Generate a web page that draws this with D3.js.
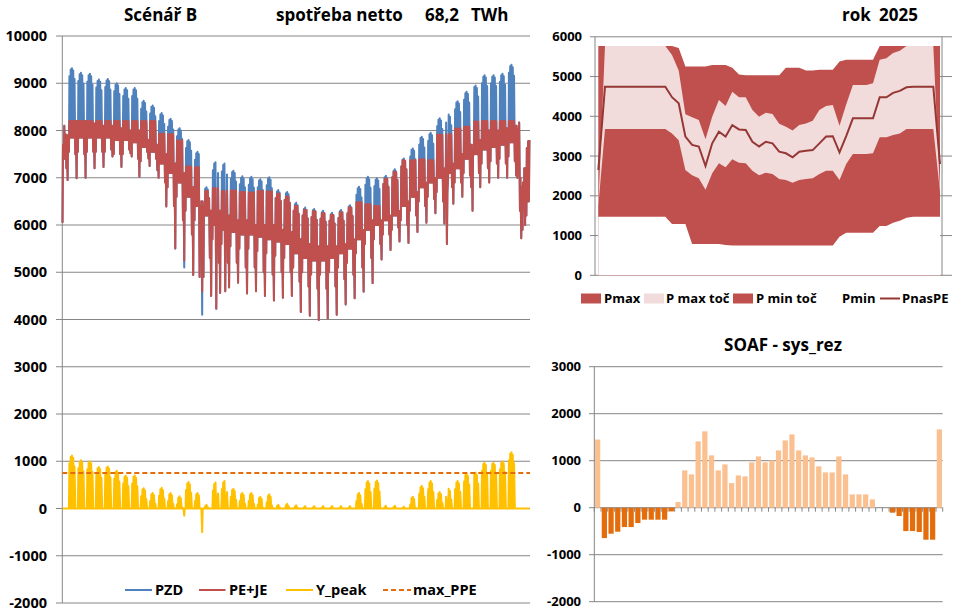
<!DOCTYPE html>
<html><head><meta charset="utf-8">
<script src="https://cdn.jsdelivr.net/npm/d3@7/dist/d3.min.js"></script>
<style>
body{margin:0;background:#fff;}
svg text{font-family:"Open Sans",sans-serif;font-weight:bold;fill:#000;}
</style></head><body>
<svg id="c" width="955" height="611"></svg>
<script>
// ===== Main chart data (weekly values, weeks start on Monday; week 0 = Wed 1 Jan .. Sun 5 Jan 2025) =====
const wdPeak = [8150,9320,9220,9200,9080,9090,9000,8900,8900,8630,8530,8370,8250,8050,7800,7550,6800,7330,7300,7150,7030,7020,6970,7010,6740,6700,6470,6370,6340,6300,6260,6320,6420,6810,7020,6990,7040,7180,7410,7620,7870,7950,8260,8340,8620,8820,8950,9170,9170,9200,9390,8200,7800];
const wdLow  = [7400,7850,7850,7850,7850,7850,7800,7800,7750,7650,7550,7300,7100,6900,6600,6400,6200,6000,5900,5850,5800,5800,5750,5700,5650,5600,5400,5300,5250,5250,5300,5400,5500,5700,5900,6000,6100,6200,6400,6600,6800,6900,7000,7100,7200,7400,7500,7600,7650,7700,7750,7300,6500];
const wePeak = [7900,8200,8200,8150,8100,8100,8050,8000,8000,7800,7700,7500,7300,7100,6800,6500,6300,6300,6200,6100,6100,6000,6000,6000,5900,5850,5700,5600,5550,5550,5550,5600,5700,5900,6100,6100,6200,6300,6500,6700,6900,7000,7200,7300,7500,7700,7800,8000,8000,8050,8100,7200,7500];
const satLow = [7200,7500,7500,7550,7550,7600,7500,7600,7400,7550,7400,6900,6400,6100,5800,5300,5300,5200,5200,5200,5100,5100,5000,4950,5000,5000,4800,4700,4650,4650,4700,4850,4950,5100,5300,5600,5800,5950,6000,6200,6400,6550,6500,6800,6900,7050,7100,7200,7300,7300,7350,6500,6800];
const sunLow = [6950,6990,7000,7200,7230,7450,7230,7520,7020,7410,7160,6390,5505,5100,4940,4100,4500,4560,4680,4780,4550,4600,4500,4400,4460,4500,4160,4080,3990,4020,4100,4320,4450,4590,4770,5270,5470,5650,5620,5850,6050,6250,6030,6450,6600,6800,6800,6900,7000,7000,7050,6000,6100];
const peCap  = [8200,8200,8200,8200,8200,8200,8200,8200,8200,8200,8200,7930,7920,7790,7240,7220,6720,6780,6720,6730,6700,6690,6720,6710,6660,6600,6400,6320,6290,6250,6210,6270,6370,6480,6440,6400,6980,7120,7370,7370,7390,7370,7910,7920,8040,8080,8190,8200,8200,8200,8200,8200,8200];
// weekday profile (Mon..Fri) relative to the weekly weekday values
const dowPeakOffset = [-170, -30, 0, -50, -230];
const dowLowOffset  = [-300, 0, 0, 0, 0];
// Sundays where PE+JE stays above PZD: [week, PE+JE low]
const peLowOverride = [[13,5250],[15,4600]];
// holidays: [day of year (0 = 1 Jan), night low, day peak]
const holidays = [[0,6050,7700],[107,4900,6400],[110,4900,6400],[120,4230,6100],[127,4600,6100],[300,5600,6700],[320,6300,7500],[357,6300,7000],[358,5720,6800],[359,5900,6900]];
const maxPPE = 750;
const mainTicks = [-2000,-1000,0,1000,2000,3000,4000,5000,6000,7000,8000,9000,10000];

// ===== Top-right chart data (weekly) =====
const pMax    = [5770,5770,5770,5770,5770,5770,5770,5770,5770,5770,5770,5770,5720,5250,5250,5250,5250,5290,5290,5290,5220,5050,5030,5030,5030,5030,5030,5030,5220,5220,5220,5150,5150,5170,5170,5170,5380,5420,5420,5420,5420,5420,5770,5770,5770,5770,5770,5770,5770,5770,5770,5770];
const pMaxToc = [1750,5770,5770,5770,5770,5770,5770,5770,5770,5770,5770,5540,5150,4050,3975,3910,3420,3990,4410,4260,4620,4480,4480,4160,3990,4090,4060,3810,3740,3640,3780,3820,3890,4160,4260,4285,3760,4300,4790,4790,4790,4830,5420,5460,5590,5650,5770,5770,5770,5770,5770,2100];
const pMinToc = [1750,3680,3680,3680,3680,3680,3680,3680,3680,3680,3680,3570,3400,2650,2520,2440,2150,2570,2820,2720,2920,2830,2820,2630,2520,2580,2550,2420,2400,2330,2400,2420,2440,2550,2630,2630,2400,2800,3050,3050,3050,3070,3470,3470,3530,3570,3680,3680,3680,3680,3680,2100];
const pMin    = [1475,1475,1475,1475,1475,1475,1475,1475,1475,1475,1475,1290,1290,1290,790,790,790,790,790,760,750,750,750,750,750,750,750,750,750,750,750,750,750,750,750,750,970,1070,1070,1070,1070,1070,1240,1240,1320,1370,1450,1475,1475,1475,1475,1475];
const pnasPE  = [2650,4745,4745,4745,4745,4745,4745,4745,4745,4745,4745,4480,4330,3490,3280,3240,2750,3320,3610,3490,3780,3670,3655,3360,3240,3360,3320,3110,3070,2970,3110,3135,3150,3320,3490,3500,3090,3500,3950,3950,3950,3950,4480,4480,4590,4640,4730,4745,4745,4745,4745,2800];
const trTicks = [0,1000,2000,3000,4000,5000,6000];

// ===== Bottom-right chart data (weekly) =====
const soaf = [1450,-646,-553,-511,-412,-412,-327,-255,-255,-255,-255,-79,120,794,709,1411,1624,1113,794,921,524,688,666,964,1091,964,1006,1219,1432,1560,1219,1113,1070,879,751,751,1091,709,283,283,283,177,0,0,-106,-178,-497,-497,-518,-681,-681,1666];
const brTicks = [-2000,-1000,0,1000,2000,3000];

const GRID = "#868686";
const BLUE = "#4F81BD", RED = "#C0504D", GOLD = "#FFC000", ORANGE = "#E46C0A";
const DARKRED = "#C0504D", PINK = "#F2DCDB", LINE = "#953735";
const svg = d3.select("#c");

// ================= MAIN CHART =================
const HOURS = 8760;
const xM = d3.scaleLinear().domain([0, HOURS]).range([62.3, 530]);
const yM = d3.scaleLinear().domain([-2000, 10000]).range([603, 36]);
const gM = svg.append("g");
gM.selectAll("line.g").data(mainTicks).join("line")
  .attr("x1", 56).attr("x2", 530).attr("y1", d=>yM(d)).attr("y2", d=>yM(d))
  .attr("stroke", GRID).attr("stroke-width", 1);
gM.append("line").attr("x1", 62.3).attr("x2", 62.3).attr("y1", yM(10000)).attr("y2", yM(-2000)).attr("stroke", GRID);
gM.selectAll("text.t").data(mainTicks).join("text")
  .attr("x", 47).attr("y", d=>yM(d)).attr("dy", "0.36em").attr("text-anchor", "end")
  .style("font-size", "14.5px").text(d=>d);

// one night-low and one day-peak point per day, taken from the weekly values
const hol = new Map(holidays.map(h=>[h[0], h]));
const peOv = new Map(peLowOverride);
const pts = [];
for (let d = 0; d < 365; d++) {
  const w = Math.floor((d + 2) / 7), dow = (d + 2) % 7; // 0 = Monday
  let low, peak, lowPE = null;
  if (hol.has(d)) { low = hol.get(d)[1]; peak = hol.get(d)[2]; }
  else if (dow < 5) { low = wdLow[w] + dowLowOffset[dow]; peak = wdPeak[w] + dowPeakOffset[dow]; }
  else if (dow === 5) { low = satLow[w]; peak = wePeak[w]; }
  else { low = sunLow[w]; peak = wePeak[w]; if (peOv.has(w)) lowPE = peOv.get(w); }
  const cap = peCap[w];
  const peL = lowPE !== null ? lowPE : Math.min(low, cap);
  const peP = Math.min(peak, cap);
  pts.push({h: d*24 + 4, pzd: low, pe: peL});
  pts.push({h: d*24 + 13, pzd: peak, pe: peP});
}
const mline = key => d3.line().x(d=>xM(d.h)).y(d=>yM(key(d)));
gM.append("path").datum(pts).attr("d", mline(d=>d.pzd)).attr("fill","none").attr("stroke",BLUE).attr("stroke-width",2).attr("stroke-linejoin","round");
gM.append("path").datum(pts).attr("d", mline(d=>d.pe)).attr("fill","none").attr("stroke",RED).attr("stroke-width",2).attr("stroke-linejoin","round");
gM.append("path").datum(pts).attr("d", mline(d=>d.pzd - d.pe)).attr("fill","none").attr("stroke",GOLD).attr("stroke-width",2).attr("stroke-linejoin","round");
gM.append("line").attr("x1", xM(0)).attr("x2", xM(HOURS)).attr("y1", yM(maxPPE)).attr("y2", yM(maxPPE))
  .attr("stroke", ORANGE).attr("stroke-width", 2).attr("stroke-dasharray", "5,3");

// titles
svg.append("text").attr("x",124).attr("y",21).style("font-size","17px").text("Scénář B");
svg.append("text").attr("x",276).attr("y",21).style("font-size","17px").text("spotřeba netto");
svg.append("text").attr("x",425).attr("y",21).style("font-size","17px").text("68,2");
svg.append("text").attr("x",471).attr("y",21).style("font-size","17px").text("TWh");

// main legend
const legM = [
  {x1:125,x2:152,tx:155,c:BLUE,t:"PZD",dash:null},
  {x1:199,x2:225.5,tx:229,c:RED,t:"PE+JE",dash:null},
  {x1:286,x2:313,tx:316,c:GOLD,t:"Y_peak",dash:null},
  {x1:383,x2:411,tx:413,c:ORANGE,t:"max_PPE",dash:"5,3"}];
legM.forEach(l=>{
  svg.append("line").attr("x1",l.x1).attr("x2",l.x2).attr("y1",590).attr("y2",590).attr("stroke",l.c).attr("stroke-width",2).attr("stroke-dasharray",l.dash);
  svg.append("text").attr("x",l.tx).attr("y",590).attr("dy","0.36em").style("font-size","14.5px").text(l.t);
});

// ================= TOP-RIGHT CHART =================
const xT = d3.scaleLinear().domain([0, pMax.length-1]).range([598.3, 940]);
const yT = d3.scaleLinear().domain([0, 6000]).range([275.3, 36.8]);
const gT = svg.append("g");
gT.selectAll("line.g").data(trTicks).join("line")
  .attr("x1",590).attr("x2",952).attr("y1",d=>yT(d)).attr("y2",d=>yT(d)).attr("stroke",GRID);
const areaT = d3.area().x((d,i)=>xT(i)).y0(yT(0)).y1(d=>yT(d));
[[pMax,DARKRED],[pMaxToc,PINK],[pMinToc,DARKRED],[pMin,"#FFFFFF"]].forEach(([arr,c])=>{
  gT.append("path").datum(arr).attr("d", areaT).attr("fill", c);
});
gT.append("line").attr("x1",595).attr("x2",595).attr("y1",yT(6000)).attr("y2",yT(0)).attr("stroke",GRID);
gT.append("line").attr("x1",942).attr("x2",942).attr("y1",yT(6000)).attr("y2",yT(0)).attr("stroke",GRID);
gT.append("path").datum(pnasPE).attr("d", d3.line().x((d,i)=>xT(i)).y(d=>yT(d)))
  .attr("fill","none").attr("stroke",LINE).attr("stroke-width",2);
gT.selectAll("text.t").data(trTicks).join("text")
  .attr("x",582).attr("y",d=>yT(d)).attr("dy","0.36em").attr("text-anchor","end")
  .style("font-size","13px").text(d=>d);
svg.append("text").attr("x",842).attr("y",21).style("font-size","17px").text("rok");
svg.append("text").attr("x",879).attr("y",21).style("font-size","17px").text("2025");
// legend
const legT = [
  {sw:DARKRED, x:581, t:"Pmax", tx:604},
  {sw:PINK, x:644, t:"P max toč", tx:666},
  {sw:DARKRED, x:733, t:"P min toč", tx:756},
  {sw:null, x:0, t:"Pmin", tx:842}];
legT.forEach(l=>{
  if (l.sw) svg.append("rect").attr("x",l.x).attr("y",293.5).attr("width",20).attr("height",10).attr("fill",l.sw);
  svg.append("text").attr("x",l.tx).attr("y",298.5).attr("dy","0.36em").style("font-size","13px").text(l.t);
});
svg.append("line").attr("x1",880).attr("x2",900).attr("y1",298.5).attr("y2",298.5).attr("stroke",LINE).attr("stroke-width",2);
svg.append("text").attr("x",902).attr("y",298.5).attr("dy","0.36em").style("font-size","13px").text("PnasPE");

// ================= BOTTOM-RIGHT CHART =================
const xB = d3.scaleBand().domain(d3.range(soaf.length)).range([594.3, 942.7]).paddingInner(0.22).paddingOuter(0.11);
const yB = d3.scaleLinear().domain([-2000, 3000]).range([601.7, 366.7]);
const gB = svg.append("g");
gB.selectAll("line.g").data(brTicks).join("line")
  .attr("x1",589).attr("x2",942.7).attr("y1",d=>yB(d)).attr("y2",d=>yB(d)).attr("stroke",GRID);
gB.append("line").attr("x1",594.3).attr("x2",594.3).attr("y1",yB(3000)).attr("y2",yB(-2000)).attr("stroke",GRID);
const stepB = (942.7-594.3)/soaf.length;
gB.selectAll("line.ct").data(d3.range(soaf.length+1)).join("line")
  .attr("x1",i=>594.3+i*stepB).attr("x2",i=>594.3+i*stepB).attr("y1",yB(0)).attr("y2",yB(0)+4).attr("stroke",GRID);
gB.selectAll("rect").data(soaf).join("rect")
  .attr("x",(d,i)=>xB(i)).attr("width",xB.bandwidth())
  .attr("y",d=>yB(Math.max(0,d))).attr("height",d=>Math.abs(yB(d)-yB(0)))
  .attr("fill",d=>d<0?ORANGE:"#FAC090");
gB.selectAll("text.t").data(brTicks).join("text")
  .attr("x",581).attr("y",d=>yB(d)).attr("dy","0.36em").attr("text-anchor","end")
  .style("font-size","13px").text(d=>d);
svg.append("text").attr("x",783).attr("y",351).attr("text-anchor","middle").style("font-size","17px").text("SOAF - sys_rez");
</script></body></html>
